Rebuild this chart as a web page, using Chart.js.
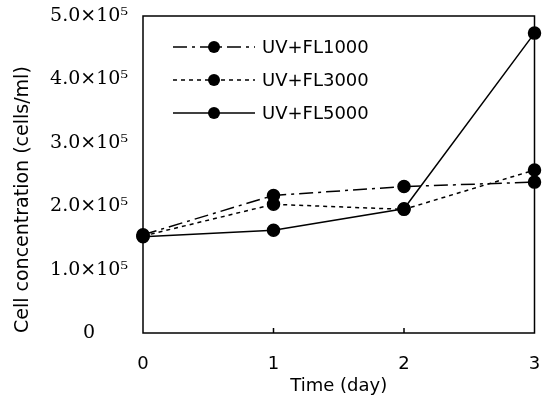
<!DOCTYPE html>
<html>
<head>
<meta charset="utf-8">
<script src="https://cdn.jsdelivr.net/npm/chart.js@4/dist/chart.umd.min.js"></script>
<style>
  html, body { margin: 0; padding: 0; background: #fff; }
  #wrap { width: 542px; height: 399px; }
</style>
</head>
<body>
<div id="wrap"><canvas id="cellChart"></canvas></div>
<script>
// Time points (day) and cell concentrations (cells/ml)
const days = [0, 1, 2, 3];
const fl1000 = [155000, 217000, 231000, 238000];
const fl3000 = [153000, 203000, 195000, 257000];
const fl5000 = [152000, 162000, 196000, 473000];
const seriesLabels = ['UV+FL1000', 'UV+FL3000', 'UV+FL5000'];
const yTicks = [0, 100000, 200000, 300000, 400000, 500000];

const sansFont = '"DejaVu Sans", "Liberation Sans", sans-serif';
const serifFont = '"DejaVu Serif", "Liberation Serif", serif';

function toPoints(values) {
    return days.map((d, i) => ({ x: d, y: values[i] }));
}

function makeDataset(label, values, dash) {
    return {
        label: label,
        data: toPoints(values),
        borderColor: '#000',
        backgroundColor: '#000',
        borderWidth: 1.5,
        borderDash: dash,
        pointRadius: 6,
        pointBackgroundColor: '#000',
        pointBorderColor: '#000',
        tension: 0,
        clip: false
    };
}

function noPadding(scale) {
    scale.paddingLeft = 0;
    scale.paddingRight = 0;
    scale.paddingTop = 0;
    scale.paddingBottom = 0;
}

// frame around plot + small inward ticks on the bottom axis
const framePlugin = {
    id: 'frame',
    afterDraw(chart) {
        const { ctx, chartArea, scales } = chart;
        ctx.save();
        ctx.strokeStyle = '#000';
        ctx.lineWidth = 1.5;
        ctx.setLineDash([]);
        ctx.strokeRect(chartArea.left, chartArea.top, chartArea.right - chartArea.left, chartArea.bottom - chartArea.top);
        [1, 2].forEach(v => {
            const x = scales.x.getPixelForValue(v);
            ctx.beginPath();
            ctx.moveTo(x, chartArea.bottom);
            ctx.lineTo(x, chartArea.bottom - 5);
            ctx.stroke();
        });
        ctx.restore();
    }
};

// legend drawn inside the plot: line with marker in the middle, then label
const insideLegend = {
    id: 'insideLegend',
    afterDraw(chart) {
        const { ctx, chartArea } = chart;
        const x0 = chartArea.left + 30;
        const x1 = x0 + 82;
        let y = chartArea.top + 31;
        ctx.save();
        chart.data.datasets.forEach(ds => {
            ctx.strokeStyle = '#000';
            ctx.lineWidth = 1.5;
            ctx.setLineDash(ds.borderDash || []);
            ctx.beginPath();
            ctx.moveTo(x0, y);
            ctx.lineTo(x1, y);
            ctx.stroke();
            ctx.setLineDash([]);
            ctx.fillStyle = '#000';
            ctx.beginPath();
            ctx.arc((x0 + x1) / 2, y, 6, 0, Math.PI * 2);
            ctx.fill();
            ctx.font = '18px ' + sansFont;
            ctx.textBaseline = 'middle';
            ctx.textAlign = 'left';
            ctx.fillText(ds.label, x1 + 7, y + 1);
            y += 33;
        });
        ctx.restore();
    }
};

const ctx = document.getElementById('cellChart').getContext('2d');
const cellChart = new Chart(ctx, {
    type: 'line',
    data: {
        datasets: [
            makeDataset(seriesLabels[0], fl1000, [14, 5, 3, 5]),
            makeDataset(seriesLabels[1], fl3000, [4, 4]),
            makeDataset(seriesLabels[2], fl5000, [])
        ]
    },
    options: {
        responsive: true,
        maintainAspectRatio: false,
        animation: false,
        layout: { padding: { top: 16, right: 6, left: 0, bottom: 0 } },
        plugins: {
            legend: { display: false },
            tooltip: { enabled: false }
        },
        scales: {
            x: {
                type: 'linear',
                min: 0,
                max: 3,
                grid: { display: false, drawTicks: false },
                border: { display: false },
                afterFit(scale) { scale.height = 66; noPadding(scale); },
                afterBuildTicks(scale) { scale.ticks = days.map(d => ({ value: d })); },
                ticks: {
                    color: '#000',
                    padding: 21,
                    font: { family: sansFont, size: 18 },
                    callback: v => String(v)
                },
                title: {
                    display: true,
                    text: 'Time (day)',
                    color: '#000',
                    font: { family: sansFont, size: 18 },
                    padding: { top: 0, bottom: 2 }
                }
            },
            y: {
                min: 0,
                max: 500000,
                grid: { display: false, drawTicks: false },
                border: { display: false },
                afterFit(scale) { scale.width = 143; noPadding(scale); },
                afterBuildTicks(scale) { scale.ticks = yTicks.map(v => ({ value: v })); },
                ticks: {
                    color: '#000',
                    padding: 15,
                    crossAlign: 'center',
                    font: { family: serifFont, size: 19 },
                    callback: v => v === 0 ? '0' : (v / 100000).toFixed(1) + '\u00d710\u2075'
                },
                title: {
                    display: true,
                    text: 'Cell concentration (cells/ml)',
                    align: 'start',
                    color: '#000',
                    font: { family: sansFont, size: 19 },
                    padding: { top: 12, bottom: 12 }
                }
            }
        }
    },
    plugins: [framePlugin, insideLegend]
});
</script>
</body>
</html>
